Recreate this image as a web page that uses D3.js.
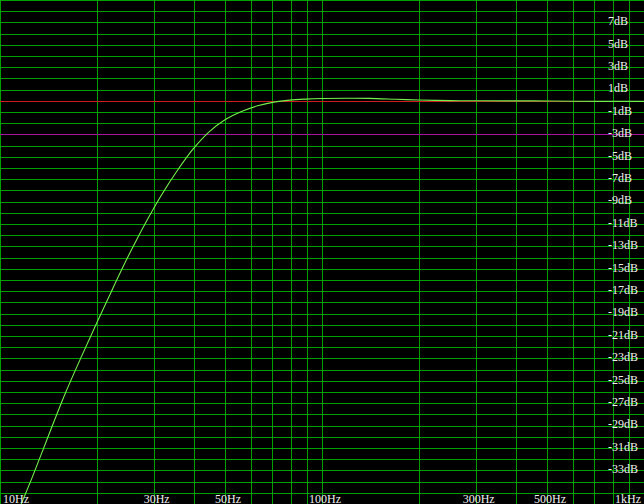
<!DOCTYPE html>
<html>
<head>
<meta charset="utf-8">
<script src="https://cdn.jsdelivr.net/npm/d3@7"></script>
<style>
  html, body { margin: 0; padding: 0; background: #000; overflow: hidden; }
  svg { display: block; }
</style>
</head>
<body>
<svg id="chart" width="644" height="504"></svg>
<script>
// ---- data ----
const freqs = [10, 11.2, 12.6, 14.1, 15.8, 17.8, 20, 22.4, 25.1, 28.2, 31.6, 35.5, 39.8, 44.7, 50.1, 56.2, 63.1, 70.8, 79.4, 89.1, 100, 120, 140, 170, 200, 250, 300, 450, 600, 1000];
const gainDb = [-41.2, -37.2, -33.6, -30.0, -26.4, -23.0, -19.8, -16.75, -13.8, -11.0, -8.5, -6.25, -4.3, -2.75, -1.67, -0.95, -0.45, -0.12, 0.06, 0.15, 0.2, 0.23, 0.22, 0.14, 0.07, 0.02, 0.0, -0.01, -0.04, -0.05];
const xGridFreqs = [10, 20, 30, 40, 50, 60, 70, 80, 90, 100, 200, 300, 400, 500, 600, 700, 800, 900, 1000];
const xLabelFreqs = [10, 30, 50, 100, 300, 500, 1000];
const xLabels = ["10Hz", "30Hz", "50Hz", "100Hz", "300Hz", "500Hz", "1kHz"];
const yGridDb = d3.range(9, -36, -1);
const yLabelDb = d3.range(7, -34, -2);
const refDb = [0, -3];
const refColors = ["#cc1c1c", "#a0169c"];

// ---- setup ----
const W = 644, H = 504;
const svg = d3.select("#chart");
svg.append("rect").attr("width", W).attr("height", H).attr("fill", "#000");

const x = d3.scaleLog().domain([10, 1000]).range([0, W]);
const y = d3.scaleLinear().domain([9, -36]).range([0, H]);

const gridColor = "#00a000";
const px = v => Math.round(v) + 0.5;

// vertical grid
const gGrid = svg.append("g").attr("class", "grid").attr("shape-rendering", "crispEdges");
gGrid.selectAll("line.v").data(xGridFreqs).join("line")
  .attr("class", "v")
  .attr("x1", d => px(x(d))).attr("x2", d => px(x(d)))
  .attr("y1", 0).attr("y2", H)
  .attr("stroke", gridColor).attr("stroke-width", 1);

// horizontal grid (reference levels drawn separately)
gGrid.selectAll("line.h").data(yGridDb.filter(d => !refDb.includes(d))).join("line")
  .attr("class", "h")
  .attr("x1", 0).attr("x2", W)
  .attr("y1", d => px(y(d))).attr("y2", d => px(y(d)))
  .attr("stroke", gridColor).attr("stroke-width", 1);

// reference lines (0 dB, -3 dB)
svg.append("g").attr("class", "ref").attr("shape-rendering", "crispEdges")
  .selectAll("rect").data(refDb).join("rect")
  .attr("x", 0).attr("width", W)
  .attr("y", d => Math.round(y(d))).attr("height", 1)
  .attr("fill", (d, i) => refColors[i]);

// curve
const pts = freqs.map((f, i) => [f, gainDb[i]]);
svg.append("defs").append("clipPath").attr("id", "clip")
  .append("rect").attr("width", W).attr("height", H);
const line = d3.line().x(d => x(d[0])).y(d => y(d[1])).curve(d3.curveCatmullRom.alpha(0.5));
svg.append("path").datum(pts)
  .attr("d", line)
  .attr("clip-path", "url(#clip)")
  .attr("fill", "none")
  .attr("stroke", "#74f04c")
  .attr("stroke-width", 1.1);

// labels
const font = "'Liberation Serif', 'Times New Roman', serif";
svg.append("g").selectAll("text").data(yLabelDb).join("text")
  .attr("x", 608)
  .attr("y", d => y(d) + 2.8)
  .attr("fill", "#f0f0f0")
  .attr("font-family", font)
  .attr("font-size", "12px")
  .text(d => d + "dB");

svg.append("g").selectAll("text").data(xLabelFreqs).join("text")
  .attr("x", (d, i) => i === 0 ? 3 : (i === xLabelFreqs.length - 1 ? 641 : x(d) + 3))
  .attr("y", 502.5)
  .attr("text-anchor", (d, i) => i === 0 ? "start" : (i === xLabelFreqs.length - 1 ? "end" : "middle"))
  .attr("fill", "#f0f0f0")
  .attr("font-family", font)
  .attr("font-size", "12px")
  .text((d, i) => xLabels[i]);
</script>
</body>
</html>
